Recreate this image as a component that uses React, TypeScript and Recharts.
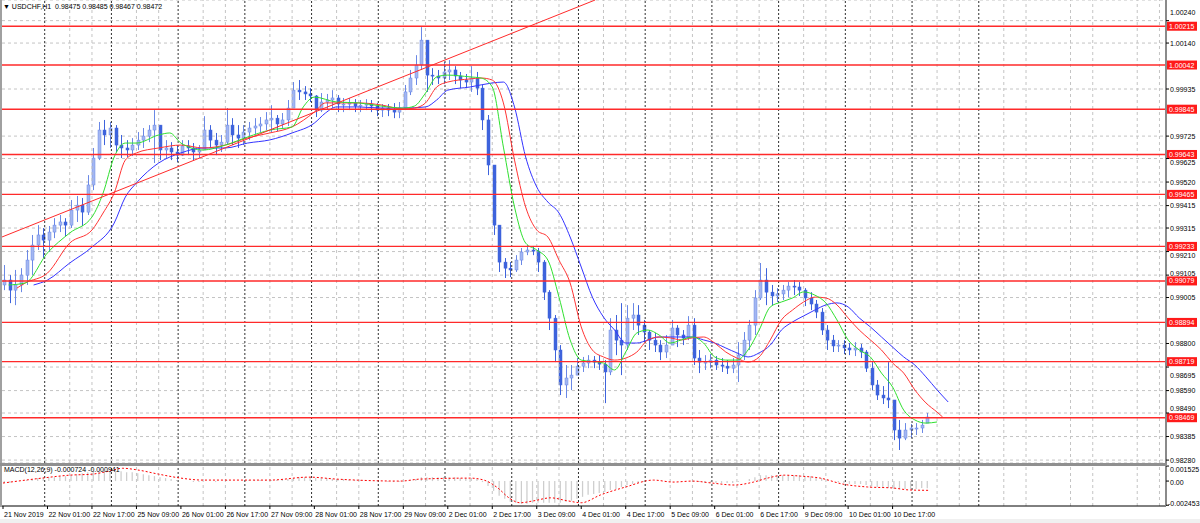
import React from 'react';
import { ComposedChart, Bar, Line, XAxis, YAxis, CartesianGrid, ReferenceLine } from 'recharts';

// USDCHF H1, drawn as 2-hour candles from 21 Nov 2019 09:00
const firstOpen = 0.99061;
const highs = [
  0.9915, 0.99105, 0.99128, 0.99136, 0.99217, 0.99284, 0.99328, 0.99315, 0.99324, 0.99359,
  0.99373, 0.99359, 0.9944, 0.99458, 0.99449, 0.99551, 0.99672, 0.99788, 0.99797, 0.99788,
  0.99774, 0.9973, 0.99707, 0.99716, 0.99743, 0.99761, 0.99774, 0.99841, 0.99774, 0.99707,
  0.99698, 0.99685, 0.99707, 0.99707, 0.99694, 0.99685, 0.99814, 0.99774, 0.99739, 0.9973,
  0.9985, 0.99805, 0.99774, 0.99774, 0.99788, 0.99805, 0.9981, 0.99832, 0.99863, 0.99819,
  0.99828, 0.99886, 0.99966, 0.99975, 0.99948, 0.99939, 0.99908, 0.99917, 0.99913, 0.9993,
  0.99908, 0.99895, 0.99895, 0.9989, 0.99886, 0.9989, 0.99886, 0.99872, 0.99868, 0.99868,
  0.99872, 0.99877, 0.99953, 1.0002, 1.00086, 1.00211, 1.00153, 1.00028, 1.0002, 1.00055,
  1.00064, 1.00037, 1.00011, 1.00002, 1.00037, 1.00011, 0.99953, 0.99819, 0.99596, 0.99328,
  0.99181, 0.99163, 0.99194, 0.99226, 0.99239, 0.99235, 0.99226, 0.99172, 0.99038, 0.98927,
  0.98793, 0.98704, 0.98704, 0.98735, 0.9874, 0.98748, 0.98744, 0.98748, 0.98726, 0.98913,
  0.98927, 0.9898, 0.98971, 0.9898, 0.98971, 0.98905, 0.9886, 0.98847, 0.98815, 0.98838,
  0.98905, 0.98882, 0.9886, 0.98922, 0.98913, 0.98771, 0.98748, 0.98753, 0.98744, 0.98735,
  0.98726, 0.98735, 0.98806, 0.98851, 0.98905, 0.99038, 0.99159, 0.99136, 0.99061, 0.99047,
  0.99061, 0.99074, 0.99083, 0.99074, 0.99047, 0.99029, 0.98994, 0.98958, 0.98882, 0.98838,
  0.98815, 0.98815, 0.98802, 0.98806, 0.98798, 0.98771, 0.98717, 0.98637, 0.9861, 0.98717,
  0.98548, 0.98459, 0.98445, 0.98441, 0.98445, 0.98459, 0.9849,
];
const lows = [
  0.99038, 0.9898, 0.98971, 0.99029, 0.99061, 0.99105, 0.99217, 0.99181, 0.99208, 0.9927,
  0.99297, 0.99279, 0.99315, 0.99342, 0.99324, 0.99373, 0.99484, 0.99618, 0.99685, 0.99672,
  0.99654, 0.99627, 0.99632, 0.99636, 0.99663, 0.99672, 0.99698, 0.99605, 0.99618, 0.99627,
  0.99618, 0.99609, 0.99636, 0.9964, 0.99618, 0.99627, 0.99663, 0.99672, 0.9964, 0.99654,
  0.99685, 0.99685, 0.99672, 0.99685, 0.99707, 0.99734, 0.99743, 0.99752, 0.99743, 0.99747,
  0.99761, 0.9977, 0.9985, 0.99886, 0.99886, 0.99877, 0.9981, 0.99832, 0.99841, 0.9985,
  0.99832, 0.99832, 0.99841, 0.99832, 0.99832, 0.99841, 0.99832, 0.99814, 0.9981, 0.99814,
  0.99805, 0.99805, 0.99841, 0.99908, 0.99953, 1.0002, 0.99922, 0.99953, 0.99957, 0.99957,
  0.99975, 0.99957, 0.99939, 0.99939, 0.99922, 0.99908, 0.99752, 0.99551, 0.99284, 0.99119,
  0.99092, 0.99096, 0.99119, 0.9915, 0.99194, 0.99194, 0.99119, 0.98994, 0.9886, 0.98717,
  0.9857, 0.98557, 0.98592, 0.98659, 0.98673, 0.9869, 0.9869, 0.98682, 0.98534, 0.98659,
  0.98748, 0.98659, 0.98771, 0.9886, 0.98838, 0.98806, 0.98771, 0.98762, 0.98726, 0.98735,
  0.98793, 0.98784, 0.98793, 0.98815, 0.98704, 0.98668, 0.98682, 0.9869, 0.98682, 0.98673,
  0.98664, 0.98668, 0.98628, 0.98726, 0.98771, 0.98838, 0.98994, 0.98971, 0.98971, 0.98985,
  0.98994, 0.99007, 0.99016, 0.99012, 0.98967, 0.98949, 0.98913, 0.98838, 0.98771, 0.98762,
  0.98762, 0.98753, 0.98748, 0.98744, 0.98735, 0.98673, 0.98592, 0.98548, 0.9853, 0.98512,
  0.98369, 0.98325, 0.98369, 0.98378, 0.98392, 0.98401, 0.98445,
];
const closes = [
  0.99083, 0.99038, 0.99061, 0.99105, 0.99172, 0.99239, 0.99284, 0.99261, 0.99297, 0.99328,
  0.99342, 0.99328, 0.99395, 0.99417, 0.99386, 0.99507, 0.99627, 0.99752, 0.9973, 0.99761,
  0.99685, 0.99672, 0.99663, 0.99685, 0.99707, 0.99725, 0.99752, 0.99774, 0.99663, 0.99672,
  0.99654, 0.9964, 0.99681, 0.99672, 0.99654, 0.99663, 0.99752, 0.99707, 0.99685, 0.99698,
  0.99774, 0.9973, 0.99716, 0.99743, 0.99761, 0.9977, 0.99779, 0.99797, 0.99805, 0.99779,
  0.99797, 0.9985, 0.9993, 0.99922, 0.99913, 0.99904, 0.99841, 0.99877, 0.99886, 0.99895,
  0.99868, 0.99868, 0.99872, 0.99859, 0.99863, 0.99868, 0.99859, 0.99841, 0.9985, 0.99841,
  0.99832, 0.9985, 0.99922, 0.99984, 1.00042, 1.00153, 0.99997, 0.99993, 0.99984, 1.00011,
  1.0002, 0.99993, 0.99975, 0.99966, 0.99984, 0.99939, 0.99797, 0.99596, 0.99328, 0.99163,
  0.99136, 0.99128, 0.99172, 0.99208, 0.99217, 0.99212, 0.99163, 0.99029, 0.98913, 0.98771,
  0.98615, 0.98646, 0.98659, 0.98699, 0.98713, 0.98726, 0.98717, 0.98708, 0.98673, 0.9886,
  0.98815, 0.98793, 0.98913, 0.98927, 0.98882, 0.98851, 0.98815, 0.98793, 0.98762, 0.98793,
  0.98869, 0.98838, 0.98824, 0.98882, 0.98735, 0.98717, 0.98717, 0.98726, 0.98704, 0.98699,
  0.9869, 0.98704, 0.98748, 0.98815, 0.98882, 0.99003, 0.99083, 0.99029, 0.99012, 0.99021,
  0.99038, 0.99056, 0.99052, 0.99038, 0.99003, 0.98976, 0.9894, 0.9886, 0.98815, 0.98789,
  0.98793, 0.9878, 0.98771, 0.9878, 0.98762, 0.9869, 0.98615, 0.9857, 0.98557, 0.98548,
  0.98414, 0.98378, 0.98414, 0.98423, 0.98423, 0.98436, 0.98472,
];

// alligator lines, [hour bar, price]
const jawLine = [
  [11, 0.99061], [16, 0.99083], [24, 0.99159], [32, 0.9923], [40, 0.99337], [44, 0.99453], [48, 0.99516],
  [56, 0.99605], [64, 0.9965], [72, 0.99672], [80, 0.99672], [88, 0.99694], [96, 0.99708], [104, 0.99739],
  [112, 0.99783], [116, 0.99828], [120, 0.99855], [128, 0.99855], [136, 0.9985], [144, 0.9985], [152, 0.99855],
  [156, 0.99886], [160, 0.9993], [168, 0.99944], [176, 0.99962], [180, 0.99966], [184, 0.99855], [188, 0.99632],
  [192, 0.99498], [196, 0.99431], [200, 0.99382], [204, 0.99275], [208, 0.99141], [212, 0.99007], [216, 0.98918],
  [220, 0.9886], [224, 0.98802], [228, 0.98802], [232, 0.98816], [236, 0.98829], [240, 0.98829], [244, 0.98829],
  [248, 0.98829], [252, 0.98816], [256, 0.98802], [260, 0.9878], [264, 0.98758], [268, 0.9874], [272, 0.98758],
  [276, 0.98793], [280, 0.9886], [284, 0.98896], [288, 0.98923], [292, 0.98949], [296, 0.98972], [300, 0.98981],
  [304, 0.98963], [308, 0.98914], [312, 0.98874], [316, 0.98829], [320, 0.98784], [324, 0.9874], [328, 0.98704],
  [332, 0.98651], [336, 0.98593], [340, 0.98539],
];
const teethLine = [
  [5, 0.99047], [8, 0.9907], [16, 0.99114], [24, 0.99248], [32, 0.99306], [36, 0.99382], [40, 0.99471],
  [44, 0.99618], [48, 0.9965], [56, 0.99672], [64, 0.99685], [72, 0.99672], [80, 0.99685], [88, 0.99717],
  [96, 0.99739], [104, 0.99766], [112, 0.99832], [116, 0.99873], [120, 0.99873], [128, 0.99873], [136, 0.99864],
  [144, 0.99846], [148, 0.9985], [152, 0.99873], [156, 0.99944], [160, 0.99966], [168, 0.9998], [172, 0.99984],
  [176, 0.99975], [180, 0.99873], [184, 0.99618], [188, 0.99409], [192, 0.99306], [196, 0.99275], [200, 0.99172],
  [204, 0.9907], [208, 0.98874], [212, 0.98771], [216, 0.9874], [220, 0.98726], [224, 0.98735], [228, 0.98762],
  [232, 0.98816], [236, 0.98829], [240, 0.98825], [244, 0.98816], [248, 0.98825], [252, 0.98829], [256, 0.98802],
  [260, 0.98762], [264, 0.98735], [268, 0.98717], [272, 0.9874], [276, 0.98816], [280, 0.98905], [284, 0.98949],
  [288, 0.98985], [292, 0.99007], [296, 0.99003], [300, 0.98972], [304, 0.98914], [308, 0.9886], [312, 0.98816],
  [316, 0.98771], [320, 0.98713], [324, 0.98668], [328, 0.98593], [332, 0.98535], [336, 0.98494], [338, 0.98472],
];
const lipsLine = [
  [2, 0.99061], [8, 0.9907], [16, 0.99204], [24, 0.99293], [32, 0.99364], [36, 0.99471], [40, 0.99632],
  [44, 0.99694], [48, 0.99694], [56, 0.9973], [60, 0.99739], [64, 0.99694], [72, 0.99663], [80, 0.99685],
  [88, 0.99721], [96, 0.99752], [104, 0.99766], [108, 0.99855], [112, 0.99899], [120, 0.99877], [128, 0.99873],
  [136, 0.99859], [144, 0.9985], [148, 0.99859], [152, 0.99917], [156, 0.99989], [160, 0.99997], [168, 0.99989],
  [172, 0.99984], [176, 0.99944], [180, 0.99676], [184, 0.99409], [188, 0.99248], [192, 0.99217], [196, 0.99172],
  [200, 0.99007], [204, 0.98816], [208, 0.98726], [216, 0.98713], [220, 0.98682], [224, 0.98762], [228, 0.98847],
  [232, 0.9886], [236, 0.98838], [240, 0.98802], [244, 0.98816], [248, 0.98829], [252, 0.98802], [256, 0.9874],
  [260, 0.98726], [264, 0.98726], [268, 0.98771], [272, 0.9886], [276, 0.98963], [280, 0.98985], [284, 0.99003],
  [288, 0.9903], [292, 0.99016], [296, 0.98981], [300, 0.98905], [304, 0.98816], [308, 0.98771], [312, 0.9874],
  [316, 0.98668], [320, 0.98606], [324, 0.98503], [328, 0.98459], [332, 0.98445], [336, 0.9845],
];

const levels = [1.00215, 1.00042, 0.99845, 0.99643, 0.99465, 0.99233, 0.99079, 0.98894, 0.98719, 0.98469];
const trendFrom = { bar: -0.36, price: 0.99275 };
const trendTo = { bar: 213, price: 1.00332 };

const priceTicks = [
  1.0024, 1.0014, 0.99935, 0.99725, 0.99625, 0.9952, 0.99415, 0.99315, 0.9921,
  0.99105, 0.99005, 0.988, 0.98695, 0.9859, 0.9849, 0.98385, 0.9828,
];
const timeLabels = [
  '21 Nov 2019', '22 Nov 01:00', '22 Nov 17:00', '25 Nov 09:00', '26 Nov 01:00', '26 Nov 17:00',
  '27 Nov 09:00', '28 Nov 01:00', '28 Nov 17:00', '29 Nov 09:00', '2 Dec 01:00', '2 Dec 17:00',
  '3 Dec 09:00', '4 Dec 01:00', '4 Dec 17:00', '5 Dec 09:00', '6 Dec 01:00', '6 Dec 17:00',
  '9 Dec 09:00', '10 Dec 01:00', '10 Dec 17:00',
];

// MACD(12,26,9): main per 2-hour candle, signal as [hour bar, value]
const macdMain = [
  -0.0002, -0.0002, -0.0001, 0, 0.0001, 0.0002, 0.0003, 0.0003, 0.0004, 0.0004,
  0.0005, 0.0005, 0.0006, 0.0007, 0.0008, 0.0009, 0.001, 0.001, 0.001, 0.001,
  0.001, 0.001, 0.0009, 0.0009, 0.0008, 0.0007, 0.0006, 0.0005, 0.0004, 0.0003,
  0.0002, 0.0001, 0, 0, -0.0001, -0.0001, 0, 0, -0.0001, 0,
  0.0001, 0, 0, 0, 0.0001, 0.0001, 0.0001, 0.0001, 0.0001, 0.0001,
  0.0002, 0.0002, 0.0003, 0.0004, 0.0004, 0.0004, 0.0003, 0.0003, 0.0003, 0.0002,
  0.0002, 0.0002, 0.0001, 0.0001, 0.0001, 0.0001, 0, 0, 0, -0.0001,
  -0.0001, -0.0001, 0, 0.0001, 0.0002, 0.0004, 0.0004, 0.0004, 0.0004, 0.0004,
  0.0004, 0.0004, 0.0003, 0.0003, 0.0003, 0.0002, -0.0001, -0.0005, -0.001, -0.0015,
  -0.0018, -0.0021, -0.0022, -0.0023, -0.0023, -0.0022, -0.0022, -0.0022, -0.0022, -0.0022,
  -0.0022, -0.0021, -0.002, -0.0018, -0.0016, -0.0014, -0.0013, -0.0012, -0.0011, -0.0009,
  -0.0008, -0.0006, -0.0004, -0.0003, -0.0002, -0.0001, 0, 0, 0, -0.0001,
  0, 0, 0, 0, -0.0001, -0.0001, -0.0002, -0.0002, -0.0002, -0.0002,
  -0.0002, -0.0002, -0.0001, 0, 0.0002, 0.0004, 0.0006, 0.0006, 0.0006, 0.0006,
  0.0006, 0.0006, 0.0006, 0.0006, 0.0005, 0.0005, 0.0004, 0.0003, 0.0001, 0,
  -0.0001, -0.0002, -0.0003, -0.0003, -0.0003, -0.0004, -0.0005, -0.0006, -0.0007, -0.0007,
  -0.0008, -0.0008, -0.0008, -0.0008, -0.0008, -0.0007, -0.000724,
];
const macdSignal = [
  [0, -0.0002], [14, 0.0003], [24, 0.0006], [32, 0.0007], [38, 0.001], [43, 0.0013], [49, 0.0011],
  [56, 0.0007], [64, 0.0003], [72, 0.0001], [96, 0.0001], [110, 0.0004], [120, 0.0002], [143, 0],
  [150, 0.0002], [168, 0.0003], [173, 0.0001], [178, -0.0007], [182, -0.0017], [186, -0.0022],
  [191, -0.002], [197, -0.0017], [203, -0.002], [208, -0.0022], [215, -0.0014], [224, -0.0006],
  [234, 0.0001], [241, -0.0001], [248, 0], [255, -0.0002], [263, -0.0004], [270, -0.0001],
  [275, 0.0003], [281, 0.0006], [287, 0.0005], [294, 0.0003], [302, -0.0003], [311, -0.0006],
  [320, -0.0007], [326, -0.0009], [333, -0.000941],
];

const FONT = "'Liberation Sans', Arial, sans-serif";
const X_DOMAIN: [number, number] = [-0.36, 418.35];

const candles = closes.map((c, k) => ({
  b: 2 * k + 0.5,
  o: k === 0 ? firstOpen : closes[k - 1],
  h: highs[k],
  l: lows[k],
  c,
  range: [lows[k], highs[k]],
}));
const toPoints = (pts: number[][]) => pts.map(([b, v]) => ({ b, v }));
const macdData = macdMain.map((v, k) => ({ b: 2 * k + 0.5, v }));
const labelBars = timeLabels.map((_, i) => i * 16);

const dayLines: number[] = [];
const hourLines: number[] = [];
for (let d = 15; d <= 351; d += 24) dayLines.push(d);
for (let d = 24; d <= 418; d += 24) {
  hourLines.push(d);
  if (d + 8 <= 418) hourLines.push(d + 8);
}

const Candle = (props: any) => {
  const { x, y, width, height, payload } = props;
  if (x == null || !payload) return null;
  const top = Math.min(y, y + height);
  const h = Math.abs(height);
  const span = payload.h - payload.l || 1e-9;
  const py = (v: number) => top + ((payload.h - Math.min(payload.h, Math.max(payload.l, v))) / span) * h;
  const cx = Math.round(x + width / 2) + 0.5;
  const bull = payload.c >= payload.o;
  const bTop = py(Math.max(payload.o, payload.c));
  const bBot = py(Math.min(payload.o, payload.c));
  const edge = bull ? '#6a88e6' : '#3e63dc';
  return (
    <g>
      <line x1={cx} x2={cx} y1={top} y2={top + h} stroke={edge} strokeWidth={1} />
      <rect x={cx - 1.5} y={bTop} width={3} height={Math.max(1, bBot - bTop)} fill={bull ? '#a3b6f1' : '#3e63dc'} stroke={edge} strokeWidth={0.5} />
    </g>
  );
};

// labels that sit next to a red price tag are nudged off it, as the terminal does
const tickNudge: Record<string, number> = { '1.0024': -8, '0.99625': 4, '0.9921': 4, '0.99105': -2, '0.98695': 8, '0.9849': -5 };
const PriceTick = ({ x, y, payload }: any) => (
  <text x={x} y={y + (tickNudge[String(payload.value)] || 0)} dy={2.5} fontSize={7} fill="#000" fontFamily={FONT}>
    {payload.value.toFixed(5)}
  </text>
);

const macdTickText: Record<string, [string, number]> = {
  '0.001525': ['0.001525', 3],
  '0': ['0.00', 1],
  '-0.002453': ['-0.002453', -2],
};
const MacdTick = ({ x, y, payload }: any) => {
  const [txt, off] = macdTickText[String(payload.value)] || [String(payload.value), 0];
  return (
    <text x={txt.startsWith('-') ? x - 2 : x} y={y + off} dy={2.5} fontSize={7} fill="#000" fontFamily={FONT}>
      {txt}
    </text>
  );
};

const TimeTick = ({ x, y, index }: any) => (
  <text x={x + 1} y={y} dy={6.5} fontSize={7} fill="#000" fontFamily={FONT}>
    {timeLabels[index]}
  </text>
);

const LevelTag = ({ viewBox, txt }: any) => {
  if (!viewBox) return null;
  const right = viewBox.x + viewBox.width;
  return (
    <g>
      <rect x={right + 1} y={viewBox.y - 4.5} width={30} height={9} fill="#ff1a1a" />
      <text x={right + 3} y={viewBox.y} dy={2.5} fontSize={7} fill="#fff" fontFamily={FONT}>
        {txt}
      </text>
    </g>
  );
};

const gridLines = () => [
  ...hourLines.map((b) => <ReferenceLine key={'h' + b} x={b} stroke="#c4c4c4" strokeDasharray="3 3" />),
  ...dayLines.map((b) => <ReferenceLine key={'d' + b} x={b} stroke="#303030" strokeDasharray="2 2" />),
];

export default function App() {
  return (
    <div style={{ position: 'absolute', left: 0, top: 0, width: 1200, height: 523, background: '#fff', overflow: 'hidden' }}>
      <div style={{ position: 'absolute', left: 0, top: 0 }}>
        <ComposedChart width={1200} height={463} data={candles} margin={{ top: 0, right: 0, bottom: 0, left: 2 }}>
          <CartesianGrid vertical={false} stroke="#c4c4c4" strokeDasharray="3 3" />
          <XAxis dataKey="b" type="number" domain={X_DOMAIN} allowDataOverflow hide />
          <YAxis
            orientation="right"
            width={34}
            type="number"
            domain={[0.98267, 1.00332]}
            allowDataOverflow
            ticks={priceTicks}
            interval={0}
            tick={<PriceTick />}
            tickSize={3}
            tickMargin={1}
            tickLine={{ stroke: '#000' }}
            axisLine={{ stroke: '#8a8a8a', strokeWidth: 2 }}
          />
          {gridLines()}
          <Bar dataKey="range" barSize={3} shape={<Candle />} isAnimationActive={false} />
          <Line data={toPoints(jawLine)} dataKey="v" type="monotone" stroke="#3434ff" strokeWidth={1} dot={false} isAnimationActive={false} />
          <Line data={toPoints(teethLine)} dataKey="v" type="monotone" stroke="#ff3434" strokeWidth={1} dot={false} isAnimationActive={false} />
          <Line data={toPoints(lipsLine)} dataKey="v" type="monotone" stroke="#2fe02f" strokeWidth={1} dot={false} isAnimationActive={false} />
          {levels.map((lv) => (
            <ReferenceLine key={'lv' + lv} y={lv} stroke="#ff2a2a" strokeWidth={1.4} label={<LevelTag txt={lv.toFixed(5)} />} />
          ))}
          <ReferenceLine
            segment={[{ x: trendFrom.bar, y: trendFrom.price }, { x: trendTo.bar, y: trendTo.price }]}
            stroke="#ff2a2a"
            strokeWidth={1}
            ifOverflow="visible"
          />
        </ComposedChart>
      </div>

      <div style={{ position: 'absolute', left: 0, top: 464 }}>
        <ComposedChart width={1200} height={59} data={macdData} margin={{ top: 2, right: 0, bottom: 3, left: 2 }}>
          <XAxis
            dataKey="b"
            type="number"
            domain={X_DOMAIN}
            allowDataOverflow
            ticks={labelBars}
            interval={0}
            tick={<TimeTick />}
            tickSize={3}
            tickMargin={1}
            height={14}
            axisLine={{ stroke: '#000' }}
            tickLine={{ stroke: '#000' }}
          />
          <YAxis
            orientation="right"
            width={34}
            type="number"
            domain={[-0.00253, 0.00153]}
            allowDataOverflow
            ticks={[0.001525, 0, -0.002453]}
            interval={0}
            tick={<MacdTick />}
            tickSize={3}
            tickMargin={1}
            tickLine={{ stroke: '#000' }}
            axisLine={{ stroke: '#8a8a8a', strokeWidth: 2 }}
          />
          {gridLines()}
          <Bar dataKey="v" barSize={2} fill="#cdcdcd" isAnimationActive={false} />
          <Line data={toPoints(macdSignal)} dataKey="v" type="monotone" stroke="#ff0000" strokeWidth={1} strokeDasharray="2 2" dot={false} isAnimationActive={false} />
        </ComposedChart>
      </div>

      {/* frame pieces */}
      <div style={{ position: 'absolute', left: 0, top: 0, width: 2, height: 507, background: '#a0a0a0' }} />
      <div style={{ position: 'absolute', left: 0, top: 463, width: 1167, height: 3, background: '#909090' }} />
      <div style={{ position: 'absolute', left: 0, top: 519, width: 1200, height: 4, background: '#f0f0f0' }} />

      <div style={{ position: 'absolute', left: 3, top: 3, fontSize: 7, lineHeight: '8px', fontFamily: FONT, color: '#000', whiteSpace: 'pre' }}>
        {'▼ USDCHF,H1  0.98475 0.98485 0.98467 0.98472'}
      </div>
      <div style={{ position: 'absolute', left: 4, top: 466, fontSize: 7, lineHeight: '8px', fontFamily: FONT, color: '#000', whiteSpace: 'pre' }}>
        {'MACD(12,26,9) -0.000724 -0.000941'}
      </div>
    </div>
  );
}
